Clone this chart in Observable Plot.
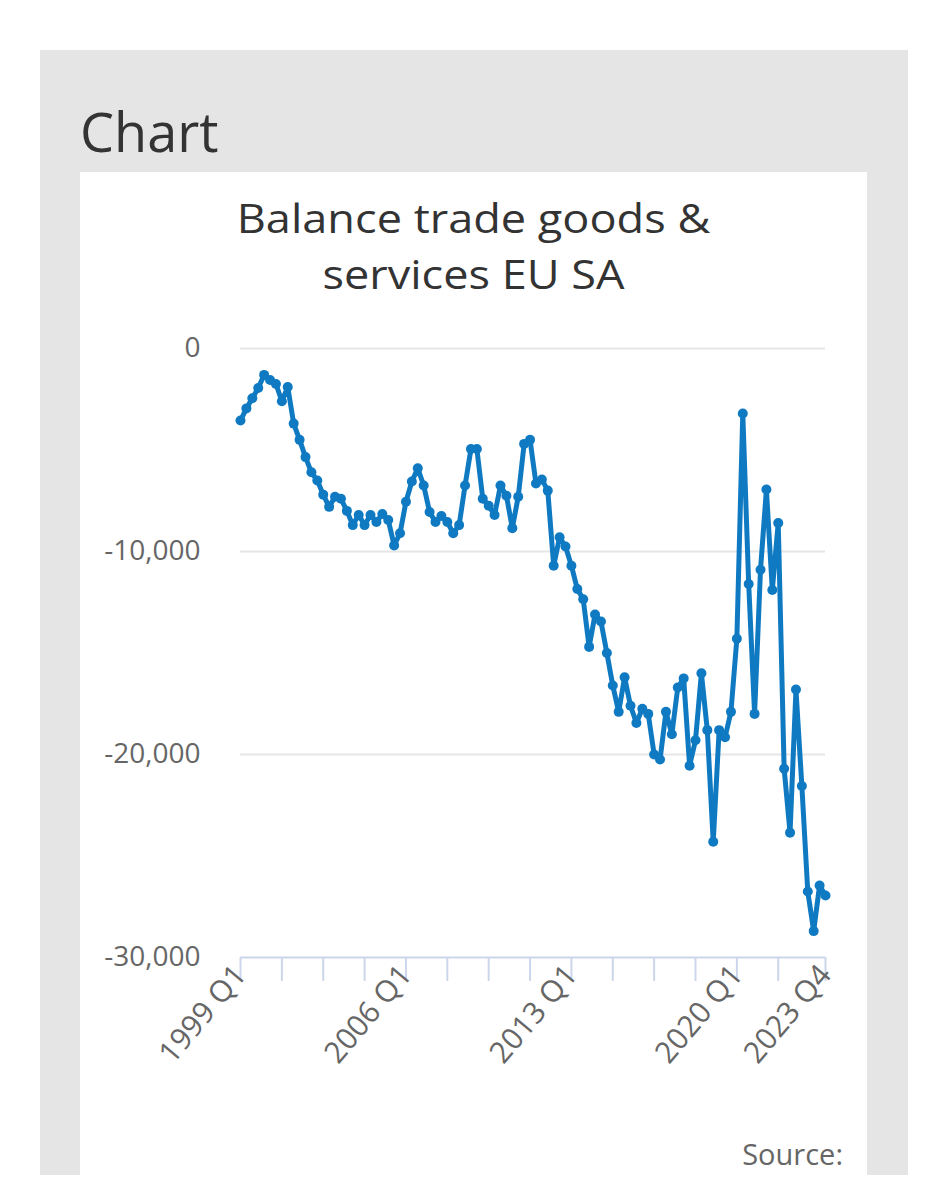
<!DOCTYPE html>
<html>
<head>
<meta charset="utf-8">
<script src="https://cdn.jsdelivr.net/npm/d3@7"></script>
<script src="https://cdn.jsdelivr.net/npm/@observablehq/plot@0.6"></script>
<style>
  html, body { margin: 0; padding: 0; background: #ffffff; }
  body { width: 949px; height: 1200px; position: relative; overflow: hidden; font-family: "Open Sans", sans-serif; }
  #panel { position: absolute; left: 40px; top: 50px; width: 868px; height: 1125px; background: #e5e5e5; }
  #heading { position: absolute; left: 80px; top: 96px; margin: 0; font-size: 54px; font-weight: 400; color: #333333; line-height: 70px; }
  #card { position: absolute; left: 80px; top: 172px; width: 787px; height: 1003px; background: #ffffff; }
  .title { position: absolute; left: 0; width: 787px; text-align: center; font-size: 41px; line-height: 48px; color: #333333;
           transform: scaleX(1.1); transform-origin: 393.5px 50%; }
  #title1 { top: 21px; }
  #title2 { top: 77px; }
  #chart { position: absolute; left: 0; top: 148px; }
  #source { position: absolute; right: 24px; top: 962px; font-size: 29px; color: #666666; }
</style>
</head>
<body>
<div id="panel"></div>
<h1 id="heading">Chart</h1>
<div id="card">
  <div class="title" id="title1">Balance trade goods &amp;</div>
  <div class="title" id="title2">services EU SA</div>
  <div id="chart"></div>
  <div id="source">Source:</div>
</div>
<script>
// Categories: quarters 1999 Q1 .. 2023 Q4
const years = d3.range(1999, 2024);
const quarterNames = ["Q1", "Q2", "Q3", "Q4"];
const quarters = years.flatMap(y => quarterNames.map(q => `${y} ${q}`));

// Series values
const balance = [
  -3550, -2950, -2450, -1950, -1300, -1550, -1750, -2600, -1900, -3700,
  -4500, -5350, -6100, -6500, -7200, -7800, -7300, -7400, -8000, -8700,
  -8200, -8700, -8200, -8550, -8150, -8450, -9700, -9100, -7550, -6550,
  -5900, -6750, -8050, -8550, -8250, -8550, -9100, -8700, -6750, -4950,
  -4950, -7400, -7750, -8200, -6750, -7250, -8850, -7300, -4700, -4500,
  -6650, -6450, -7000, -10700, -9300, -9750, -10700, -11850, -12350, -14700,
  -13100, -13450, -15000, -16600, -17900, -16200, -17600, -18450, -17750, -18000,
  -20000, -20250, -17900, -19000, -16700, -16250, -20550, -19300, -16000, -18800,
  -24300, -18800, -19150, -17900, -14300, -3200, -11600, -18000, -10900, -6950,
  -11900, -8600, -20700, -23850, -16800, -21550, -26750, -28700, -26450, -26950
];

// Tick labels
const xTicks = ["1999 Q1", "2000 Q4", "2002 Q3", "2004 Q2", "2006 Q1", "2007 Q4", "2009 Q3", "2011 Q2",
                "2013 Q1", "2014 Q4", "2016 Q3", "2018 Q2", "2020 Q1", "2021 Q4", "2023 Q4"];
const xLabels = ["1999 Q1", "2006 Q1", "2013 Q1", "2020 Q1", "2023 Q4"];
const yTicks = [0, -10000, -20000, -30000];

const data = quarters.map((q, i) => ({quarter: q, value: balance[i]}));
const lineColor = "#0f7ac2";

const chart = Plot.plot({
  width: 787,
  height: 780,
  marginLeft: 160,
  marginRight: 42,
  marginTop: 28,
  marginBottom: 143,
  style: {fontFamily: "Open Sans", fontSize: "28px", color: "#666666", background: "transparent", overflow: "visible"},
  x: {type: "point", domain: quarters, padding: 0},
  y: {domain: [-30000, 0]},
  marks: [
    Plot.ruleY(yTicks.filter(d => d !== -30000), {stroke: "#e6e6e6", strokeWidth: 2}),
    Plot.ruleY([-30000], {stroke: "#ccd6eb", strokeWidth: 2}),
    Plot.axisY(yTicks, {tickSize: 0, tickPadding: 40, tickFormat: d => d.toLocaleString("en-US"),
      fill: "#666666", fontSize: 28, label: null}),
    Plot.axisX(xTicks, {tickSize: 24, stroke: "#ccd6eb", strokeWidth: 2, tickPadding: -12, tickRotate: -50,
      tickFormat: d => xLabels.includes(d) ? d : "", fill: "#666666", fontSize: 30, label: null}),
    Plot.line(data, {x: "quarter", y: "value", stroke: lineColor, strokeWidth: 5, strokeLinejoin: "miter"}),
    Plot.dot(data, {x: "quarter", y: "value", r: 5, fill: lineColor, stroke: null})
  ]
});
document.getElementById("chart").appendChild(chart);
</script>
</body>
</html>
